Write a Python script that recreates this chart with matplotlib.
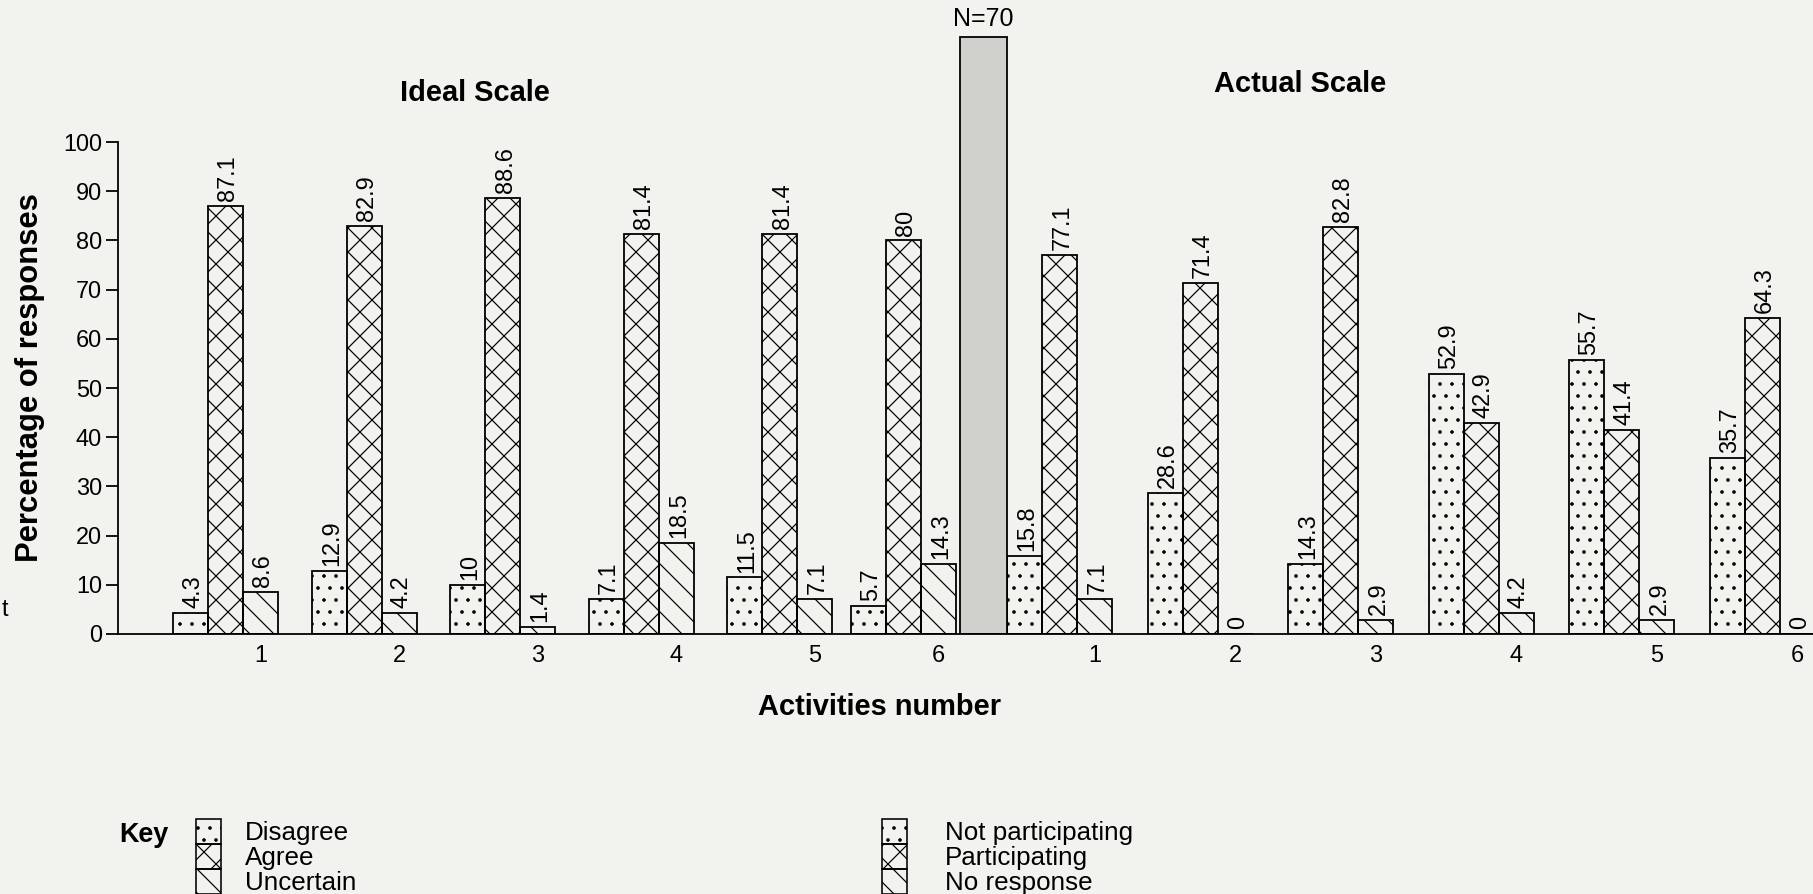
import matplotlib
matplotlib.use("Agg")
import matplotlib.pyplot as plt
from matplotlib.patches import Rectangle
import numpy as np

# percentage of responses (N=70)
activities = ["1", "2", "3", "4", "5", "6"]
ideal_disagree = [4.3, 12.9, 10, 7.1, 11.5, 5.7]
ideal_agree = [87.1, 82.9, 88.6, 81.4, 81.4, 80]
ideal_uncertain = [8.6, 4.2, 1.4, 18.5, 7.1, 14.3]
actual_not_participating = [15.8, 28.6, 14.3, 52.9, 55.7, 35.7]
actual_participating = [77.1, 71.4, 82.8, 42.9, 41.4, 64.3]
actual_no_response = [7.1, 0, 2.9, 4.2, 2.9, 0]

ideal_keys = ["Disagree", "Agree", "Uncertain"]
actual_keys = ["Not participating", "Participating", "No response"]
sample_label = "N=70"
sample_bar = 121.3  # grey divider bar between the two scales
y_ticks = list(range(0, 101, 10))

# at 72 dpi one point is one pixel, and the hatch cell is 72 px,
# which gives the ~12 px hatch spacing of the printed original
DPI = 72
W, H = 1813, 894
BG = "#f2f2ee"
HATCHES = [".", "x", "\\"]
NARROW = ["Liberation Sans Narrow", "Liberation Sans", "DejaVu Sans"]

plt.rcParams["font.family"] = ["Liberation Sans", "DejaVu Sans"]
plt.rcParams["hatch.linewidth"] = 1.2

fig = plt.figure(figsize=(W / DPI, H / DPI), dpi=DPI, facecolor=BG)
ax = fig.add_axes([118 / W, (H - 634) / H, 1 - 118 / W, 610 / H])
ax.set_facecolor("none")

bw = 0.25
ideal_x = 1 + 0.99 * np.arange(6)
ideal_x[5] = ideal_x[4] + 0.88  # last ideal group sits a bit closer in the original
actual_x = 6.957 + 1.004 * np.arange(6)
sep_w = 0.336
sep_x = actual_x[0] - 1.5 * bw - sep_w / 2


def draw_groups(xs, series):
    for k, vals in enumerate(series):
        pos = xs + (k - 1) * bw
        ax.bar(pos, vals, width=bw, color="none", edgecolor="black",
               hatch=HATCHES[k], linewidth=1.8)
        for p, v in zip(pos, vals):
            ax.text(p + 0.02, v + 1.0, f"{v:g}", rotation=90, ha="center",
                    va="bottom", fontsize=23.5)


draw_groups(ideal_x, [ideal_disagree, ideal_agree, ideal_uncertain])
draw_groups(actual_x, [actual_not_participating, actual_participating, actual_no_response])

ax.bar(sep_x, sample_bar, width=sep_w, color="#d0d0cd", edgecolor="black", linewidth=1.8)
ax.text(sep_x, sample_bar + 1.2, sample_label, ha="center", va="bottom", fontsize=25)

ax.set_xlim(0.232, 12.339)
ax.set_ylim(0, 124)
ax.spines[["top", "right"]].set_visible(False)
ax.spines["left"].set_bounds(0, 100)
ax.spines["left"].set_linewidth(1.8)
ax.spines["bottom"].set_linewidth(1.8)

ax.set_xticks(np.concatenate([ideal_x, actual_x]) + bw)
ax.set_xticklabels(activities + activities)
ax.tick_params(axis="x", length=0, pad=11, labelsize=23.5)
ax.set_yticks(y_ticks)
ax.tick_params(axis="y", length=12, width=1.8, pad=4, labelsize=23.5)

fig.text(30 / W, 1 - 378 / H, "Percentage of responses", rotation=90, ha="center",
         va="center", fontsize=31, weight="bold")
fig.text(475 / W, 1 - 93 / H, "Ideal Scale", ha="center", va="center", fontsize=29, weight="bold")
fig.text(1300 / W, 1 - 84 / H, "Actual Scale", ha="center", va="center", fontsize=29, weight="bold")
fig.text(880 / W, 1 - 707 / H, "Activities number", ha="center", va="center", fontsize=29, weight="bold")
fig.text(2 / W, 1 - 610 / H, "t", ha="left", va="center", fontsize=23.5)

# key, drawn in pixel coordinates
lg = fig.add_axes([0, 0, 1, 1])
lg.set_xlim(0, W)
lg.set_ylim(H, 0)
lg.axis("off")
lg.text(119, 835, "Key", ha="left", va="center", fontsize=27, weight="bold")
for bx, tx, keys in [(196, 245, ideal_keys), (882, 945, actual_keys)]:
    for k, label in enumerate(keys):
        top = 819 + 25 * k
        lg.add_patch(Rectangle((bx, top), 25, 25, facecolor="none", edgecolor="black",
                               hatch=HATCHES[k], linewidth=1.6))
        lg.text(tx, top + 14, label, ha="left", va="center", fontsize=26, family=NARROW)

fig.savefig("out.png", dpi=DPI, facecolor=BG)
